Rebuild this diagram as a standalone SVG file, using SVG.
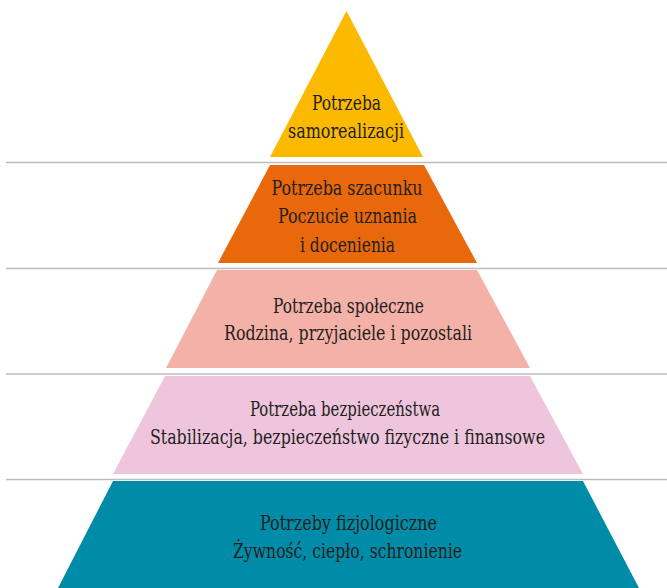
<svg xmlns="http://www.w3.org/2000/svg" width="667" height="588" viewBox="0 0 667 588">
  <style>
    .lbl { font-family: "DejaVu Serif", "Liberation Serif", serif; font-stretch: condensed; font-size: 21px; fill: #231f20; text-anchor: middle; }
    .div { stroke: #bcbcbc; stroke-width: 1.5; fill: none; }
  </style>
  <rect width="667" height="588" fill="#ffffff"/>
  <g id="dividers">
    <line class="div" x1="6" y1="162.5" x2="667" y2="162.5"/>
    <line class="div" x1="6" y1="268.5" x2="667" y2="268.5"/>
    <line class="div" x1="6" y1="374" x2="667" y2="374"/>
    <line class="div" x1="6" y1="479.5" x2="667" y2="479.5"/>
  </g>
  <g id="level-samorealizacja">
    <polygon points="346.5,11 270,157 423,157" fill="#fbb900"/>
    <text class="lbl" x="346.5" y="110" textLength="69" lengthAdjust="spacingAndGlyphs">Potrzeba</text>
    <text class="lbl" x="346" y="138" textLength="116" lengthAdjust="spacingAndGlyphs">samorealizacji</text>
  </g>
  <g id="level-szacunek">
    <polygon points="270,165 424,165 477,263 218,263" fill="#e8680b"/>
    <text class="lbl" x="347" y="195" textLength="151" lengthAdjust="spacingAndGlyphs">Potrzeba szacunku</text>
    <text class="lbl" x="347.5" y="223" textLength="139" lengthAdjust="spacingAndGlyphs">Poczucie uznania</text>
    <text class="lbl" x="347.5" y="252" textLength="95" lengthAdjust="spacingAndGlyphs">i docenienia</text>
  </g>
  <g id="level-spoleczne">
    <polygon points="217,270 477,270 530,368 166,368" fill="#f4b1a8"/>
    <text class="lbl" x="348.5" y="313" textLength="151" lengthAdjust="spacingAndGlyphs">Potrzeba społeczne</text>
    <text class="lbl" x="348" y="340" textLength="248" lengthAdjust="spacingAndGlyphs">Rodzina, przyjaciele i pozostali</text>
  </g>
  <g id="level-bezpieczenstwo">
    <polygon points="165,376 530,376 583,474 113,474" fill="#efc5de"/>
    <text class="lbl" x="345" y="416" textLength="190" lengthAdjust="spacingAndGlyphs">Potrzeba bezpieczeństwa</text>
    <text class="lbl" x="347.5" y="444" textLength="395" lengthAdjust="spacingAndGlyphs">Stabilizacja, bezpieczeństwo fizyczne i finansowe</text>
  </g>
  <g id="level-fizjologiczne">
    <polygon points="113,481 583,481 639,588 58,588" fill="#008ca8"/>
    <text class="lbl" x="348.5" y="530" textLength="177" lengthAdjust="spacingAndGlyphs">Potrzeby fizjologiczne</text>
    <text class="lbl" x="347.5" y="558" textLength="229" lengthAdjust="spacingAndGlyphs">Żywność, ciepło, schronienie</text>
  </g>
</svg>
